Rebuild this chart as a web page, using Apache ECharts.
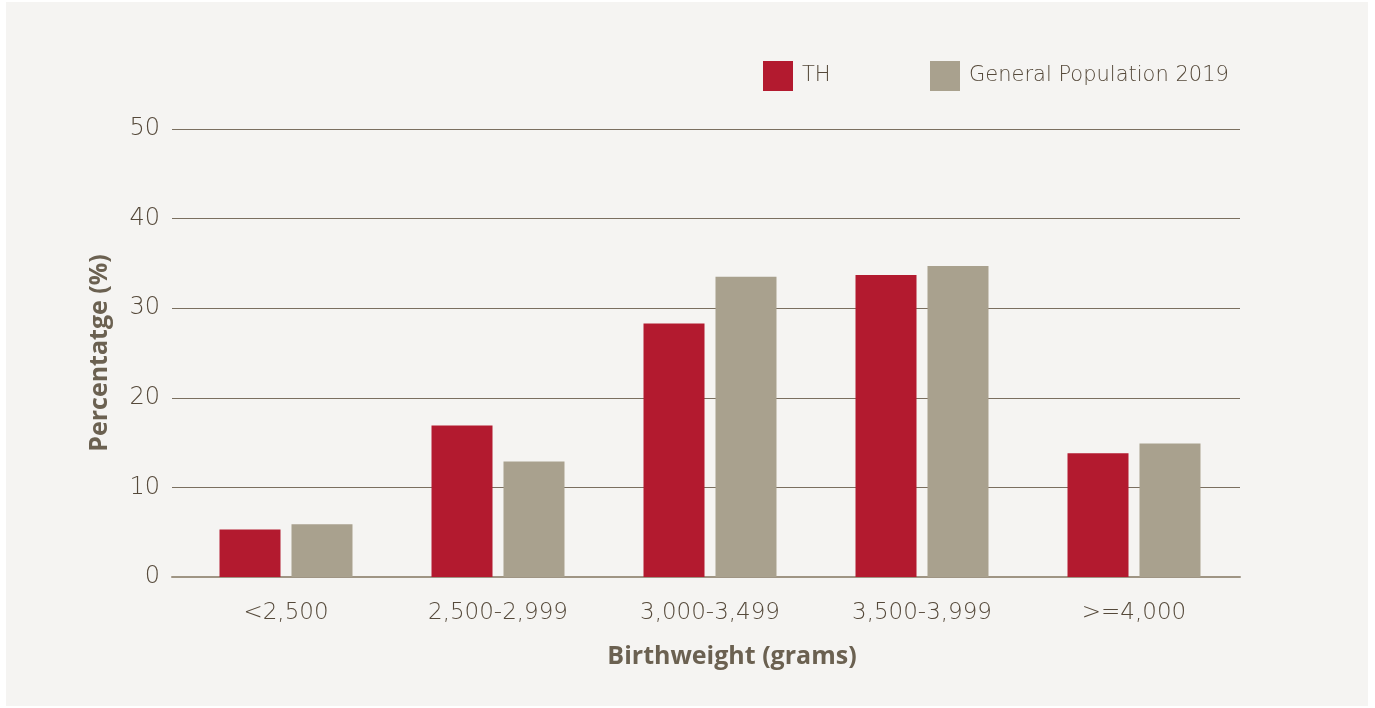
<!DOCTYPE html>
<html>
<head>
<meta charset="utf-8">
<script src="https://cdn.jsdelivr.net/npm/echarts@6/dist/echarts.min.js"></script>
<style>
  html, body { margin: 0; padding: 0; background: #ffffff; }
  .panel { position: absolute; left: 6px; top: 2px; width: 1362px; height: 704px; background: #f5f4f2; }
  #chart { position: absolute; left: 0; top: 0; width: 1375px; height: 708px; }
</style>
</head>
<body>
<div class="panel"></div>
<div id="chart"></div>
<script>
// birthweight bands (grams)
const categories = ['<2,500', '2,500-2,999', '3,000-3,499', '3,500-3,999', '>=4,000']
// percentage of births per band
const thValues = [5.3, 16.9, 28.3, 33.7, 13.8]
const generalValues = [5.9, 12.9, 33.5, 34.7, 14.9]
const seriesNames = ['TH', 'General Population 2019']

const textColor = '#6b6151'
const thinColor = '#55493a'
const fontFamily = '"DejaVu Sans", sans-serif'
const titleFont = '"Open Sans", sans-serif'

const legendText = { color: thinColor, fontSize: 21, fontWeight: 200, fontFamily, padding: [5, 0, 0, 4] }

const chart = echarts.init(document.getElementById('chart'))
chart.setOption({
  backgroundColor: 'transparent',
  animation: false,
  textStyle: { fontFamily },
  legend: [
    { data: [seriesNames[0]], top: 61, left: 763, padding: 0, itemWidth: 30, itemHeight: 30, icon: 'rect', textStyle: legendText },
    { data: [seriesNames[1]], top: 61, left: 930, padding: 0, itemWidth: 30, itemHeight: 30, icon: 'rect', textStyle: legendText },
  ],
  // grid 0 holds the gridlines and axis lines, grid 1 holds the bars
  grid: [
    { left: 172, right: 135, top: 129, bottom: 131 },
    { left: 180, right: 135, top: 129, bottom: 131 },
  ],
  xAxis: [
    {
      gridIndex: 0,
      type: 'value',
      min: 0,
      max: 1,
      axisLine: { show: true, lineStyle: { color: '#9f9584', width: 2 } },
      axisTick: { show: false },
      axisLabel: { show: false },
      splitLine: { show: false },
    },
    {
      gridIndex: 1,
      type: 'category',
      data: categories,
      name: 'Birthweight (grams)',
      nameLocation: 'middle',
      nameGap: 67,
      nameTextStyle: { color: textColor, fontSize: 25, fontWeight: 'bold', fontFamily: titleFont, padding: [0, 0, 0, 44] },
      axisLine: { show: false },
      axisTick: { show: false },
      axisLabel: { color: thinColor, fontSize: 23, fontWeight: 200, margin: 25 },
    },
  ],
  yAxis: [
    {
      gridIndex: 0,
      type: 'value',
      min: 0,
      max: 50,
      interval: 10,
      name: 'Percentatge (%)',
      nameLocation: 'middle',
      nameGap: 60,
      nameTextStyle: { color: textColor, fontSize: 25, fontWeight: 'bold', fontFamily: titleFont },
      axisLine: { show: false },
      axisTick: { show: false },
      axisLabel: { color: thinColor, fontSize: 24, fontWeight: 200, margin: 12 },
      splitLine: { lineStyle: { color: '#7a6f60', width: 1 } },
    },
    {
      gridIndex: 1,
      type: 'value',
      min: 0,
      max: 50,
      interval: 10,
      show: false,
      splitLine: { show: false },
    },
  ],
  series: [
    {
      name: seriesNames[0],
      type: 'bar',
      xAxisIndex: 1,
      yAxisIndex: 1,
      data: thValues,
      barWidth: 61,
      barGap: '18%',
      itemStyle: { color: '#b31a2f' },
    },
    {
      name: seriesNames[1],
      type: 'bar',
      xAxisIndex: 1,
      yAxisIndex: 1,
      data: generalValues,
      barWidth: 61,
      itemStyle: { color: '#a9a18e' },
    },
  ],
})
</script>
</body>
</html>
